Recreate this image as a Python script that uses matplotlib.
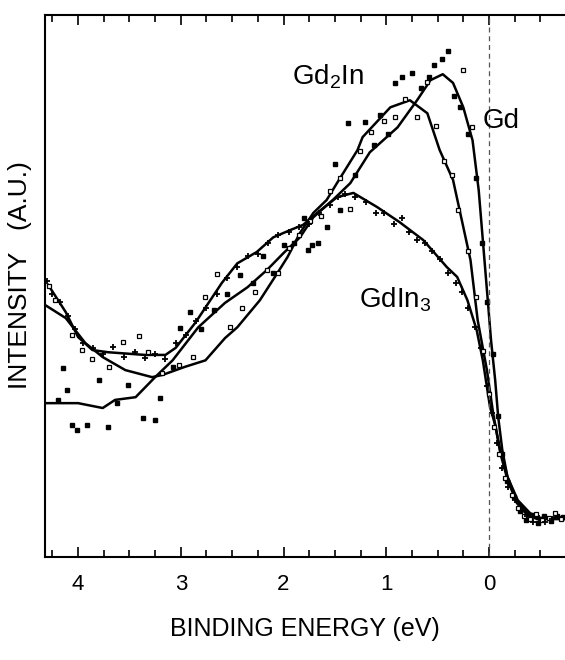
import matplotlib.pyplot as plt
from matplotlib.ticker import MultipleLocator

plt.rcParams['font.family'] = ['Liberation Sans', 'DejaVu Sans']
plt.rcParams['mathtext.default'] = 'regular'

# fitted curves (binding energy in eV, intensity in arbitrary units)
gd_line_e = [4.32, 4.00, 3.76, 3.64, 3.44, 3.25, 3.08, 2.83, 2.57, 2.35, 2.16, 2.00, 1.84,
             1.71, 1.52, 1.35, 1.16, 0.89, 0.70, 0.57, 0.45, 0.35, 0.25, 0.16, 0.10, 0.06,
             0.02, -0.02, -0.06, -0.09, -0.13, -0.18, -0.28, -0.40, -0.50, -0.74]
gd_line_i = [28.4, 28.4, 27.5, 29.0, 29.5, 33.2, 36.3, 42.4, 46.9, 49.8, 53.0, 56.1, 59.0,
             62.7, 65.9, 69.0, 74.7, 79.3, 84.3, 88.0, 89.1, 87.5, 83.0, 76.9, 67.7, 58.5,
             49.3, 40.0, 32.7, 25.8, 19.7, 14.8, 10.5, 8.1, 7.2, 7.4]

gd2in_line_e = [4.32, 4.12, 3.93, 3.76, 3.54, 3.28, 3.18, 2.96, 2.76, 2.57, 2.45, 2.23, 2.06,
                1.96, 1.84, 1.71, 1.58, 1.48, 1.28, 1.23, 0.96, 0.77, 0.60, 0.48, 0.35, 0.25,
                0.18, 0.11, 0.02, -0.04, -0.11, -0.18, -0.27, -0.37, -0.47, -0.74]
gd2in_line_i = [46.5, 44.1, 39.5, 36.9, 34.5, 33.2, 33.6, 35.1, 36.3, 40.4, 42.4, 47.4, 52.4,
                55.4, 59.8, 63.5, 65.9, 69.0, 75.1, 77.5, 83.0, 84.3, 81.9, 75.1, 69.6, 60.9,
                54.8, 43.7, 34.5, 26.6, 19.2, 14.3, 10.0, 7.8, 7.0, 7.0]

gdin3_line_e = [4.29, 4.12, 4.00, 3.86, 3.71, 3.35, 3.15, 3.05, 2.86, 2.60, 2.45, 2.26, 2.10,
                1.94, 1.81, 1.64, 1.48, 1.32, 1.09, 0.87, 0.64, 0.41, 0.31, 0.21, 0.12, 0.06,
                -0.01, -0.06, -0.11, -0.18, -0.27, -0.37, -0.47, -0.74]
gdin3_line_i = [50.2, 45.2, 40.6, 38.2, 37.8, 37.3, 37.3, 38.6, 43.2, 50.6, 54.2, 56.3, 59.0,
                60.3, 61.3, 64.0, 66.4, 67.2, 64.6, 61.8, 58.5, 53.5, 51.7, 47.4, 41.9, 36.3,
                27.7, 24.4, 19.7, 14.8, 10.5, 8.1, 7.2, 7.2]

# measured points
gd_pts_e = [4.20, 4.15, 4.11, 4.06, 4.01, 3.91, 3.80, 3.71, 3.62, 3.51, 3.37, 3.25, 3.20,
            3.08, 3.01, 2.91, 2.80, 2.68, 2.55, 2.42, 2.30, 2.20, 2.10, 2.00, 1.90, 1.80,
            1.76, 1.72, 1.66, 1.58, 1.50, 1.45, 1.37, 1.30, 1.21, 1.12, 1.06, 0.98, 0.91,
            0.85, 0.75, 0.66, 0.58, 0.54, 0.46, 0.40, 0.34, 0.28, 0.20, 0.13, 0.07, 0.02,
            -0.04, -0.09, -0.13, -0.18, -0.24, -0.30, -0.36, -0.42, -0.48, -0.54, -0.60,
            -0.66, -0.72]
gd_pts_i = [29.0, 34.9, 30.8, 24.4, 23.4, 24.4, 32.7, 24.0, 28.5, 31.7, 25.6, 25.3, 29.3,
            35.0, 42.3, 45.2, 42.0, 45.5, 48.5, 52.0, 50.5, 55.5, 52.5, 57.5, 58.0, 62.5,
            56.6, 57.5, 58.0, 61.0, 72.5, 64.0, 80.1, 70.5, 80.3, 76.0, 81.5, 78.0, 87.5,
            88.6, 89.3, 86.5, 88.5, 90.8, 92.0, 93.3, 85.0, 83.0, 78.0, 70.0, 58.0, 47.0,
            37.5, 26.0, 19.0, 14.0, 11.0, 8.5, 6.8, 7.8, 6.2, 7.6, 6.6, 7.5, 7.3]

gd2in_pts_e = [4.28, 4.22, 4.06, 3.96, 3.86, 3.70, 3.56, 3.41, 3.32, 3.18, 3.02, 2.88, 2.76,
               2.65, 2.52, 2.40, 2.28, 2.16, 2.05, 1.95, 1.85, 1.74, 1.64, 1.55, 1.45, 1.35,
               1.26, 1.15, 1.02, 0.91, 0.82, 0.70, 0.60, 0.52, 0.44, 0.36, 0.30, 0.25, 0.20,
               0.17, 0.13, 0.06, 0.00, -0.05, -0.10, -0.16, -0.22, -0.28, -0.34, -0.40,
               -0.46, -0.52, -0.58, -0.64, -0.70]
gd2in_pts_i = [50.0, 47.5, 41.0, 38.2, 36.5, 35.0, 39.7, 40.8, 37.8, 34.0, 35.5, 37.0, 48.0,
               52.2, 42.5, 46.0, 49.0, 53.0, 52.5, 57.0, 59.5, 62.0, 63.0, 67.5, 70.0, 64.2,
               75.0, 78.5, 80.5, 81.2, 84.5, 81.2, 87.6, 79.5, 73.0, 70.5, 64.0, 89.9, 56.5,
               79.3, 48.0, 38.0, 30.0, 24.0, 19.0, 14.5, 11.5, 9.0, 7.5, 7.0, 8.0, 6.9, 7.2,
               8.2, 7.0]

gdin3_pts_e = [4.30, 4.25, 4.18, 4.10, 4.03, 3.95, 3.85, 3.76, 3.66, 3.55, 3.45, 3.35, 3.25,
               3.15, 3.05, 2.95, 2.85, 2.75, 2.65, 2.55, 2.45, 2.35, 2.25, 2.15, 2.05, 1.95,
               1.85, 1.75, 1.65, 1.55, 1.47, 1.40, 1.30, 1.20, 1.10, 1.02, 0.92, 0.85, 0.78,
               0.70, 0.62, 0.55, 0.48, 0.40, 0.32, 0.26, 0.20, 0.14, 0.08, 0.02, -0.03,
               -0.08, -0.13, -0.19, -0.25, -0.31, -0.37, -0.43, -0.49, -0.55, -0.61]
gdin3_pts_i = [51.0, 48.5, 47.0, 44.5, 42.0, 39.5, 38.5, 37.5, 38.8, 37.0, 37.8, 36.8, 37.5,
               36.5, 39.5, 41.0, 43.5, 46.0, 48.5, 51.5, 53.5, 55.5, 56.0, 58.0, 59.5, 60.0,
               61.0, 61.5, 63.5, 65.0, 66.5, 67.0, 66.5, 65.5, 63.5, 63.5, 61.5, 62.5, 60.0,
               58.5, 58.0, 56.5, 55.0, 52.5, 50.5, 49.0, 46.0, 42.5, 38.5, 31.5, 26.5, 21.0,
               16.5, 13.0, 10.5, 8.5, 7.5, 6.5, 7.2, 6.5, 7.0]

fig = plt.figure(figsize=(5.65, 6.6), dpi=100)
ax = fig.add_axes([0.08, 0.156, 0.92, 0.821])

ax.plot(gd_line_e, gd_line_i, color='black', lw=1.8)
ax.plot(gd2in_line_e, gd2in_line_i, color='black', lw=1.8)
ax.plot(gdin3_line_e, gdin3_line_i, color='black', lw=1.8)

ax.plot(gd_pts_e, gd_pts_i, 's', color='black', ms=3.0, ls='none')
ax.plot(gd2in_pts_e, gd2in_pts_i, 's', color='black', mfc='white', mew=0.9, ms=3.0, ls='none')
ax.plot(gdin3_pts_e, gdin3_pts_i, '+', color='black', mew=1.3, ms=4.0, ls='none')

ax.axvline(0, color='#555555', lw=0.9, ls=(0, (4, 3)))

ax.text(1.92, 88.7, 'Gd$_2$In', fontsize=20, ha='left', va='center')
ax.text(0.06, 80.4, 'Gd', fontsize=20, ha='left', va='center')
ax.text(1.27, 47.4, 'GdIn$_3$', fontsize=20, ha='left', va='center')

ax.set_xlim(4.32, -0.74)
ax.set_ylim(0, 100)
ax.xaxis.set_major_locator(MultipleLocator(1))
ax.xaxis.set_minor_locator(MultipleLocator(0.25))
ax.tick_params(axis='x', which='both', direction='in', top=True, bottom=True,
               labelsize=16, pad=12, width=1.2)
ax.tick_params(axis='x', which='major', length=7.5)
ax.tick_params(axis='x', which='minor', length=5)
ax.set_yticks([])
ax.spines['right'].set_visible(False)
for side in ['left', 'top', 'bottom']:
    ax.spines[side].set_linewidth(1.5)

ax.set_xlabel('BINDING ENERGY (eV)', fontsize=18, labelpad=16)
ax.set_ylabel('INTENSITY   (A.U.)', fontsize=19)
ax.yaxis.set_label_coords(-0.025, 0.52)

plt.savefig('out.png', dpi=100)
